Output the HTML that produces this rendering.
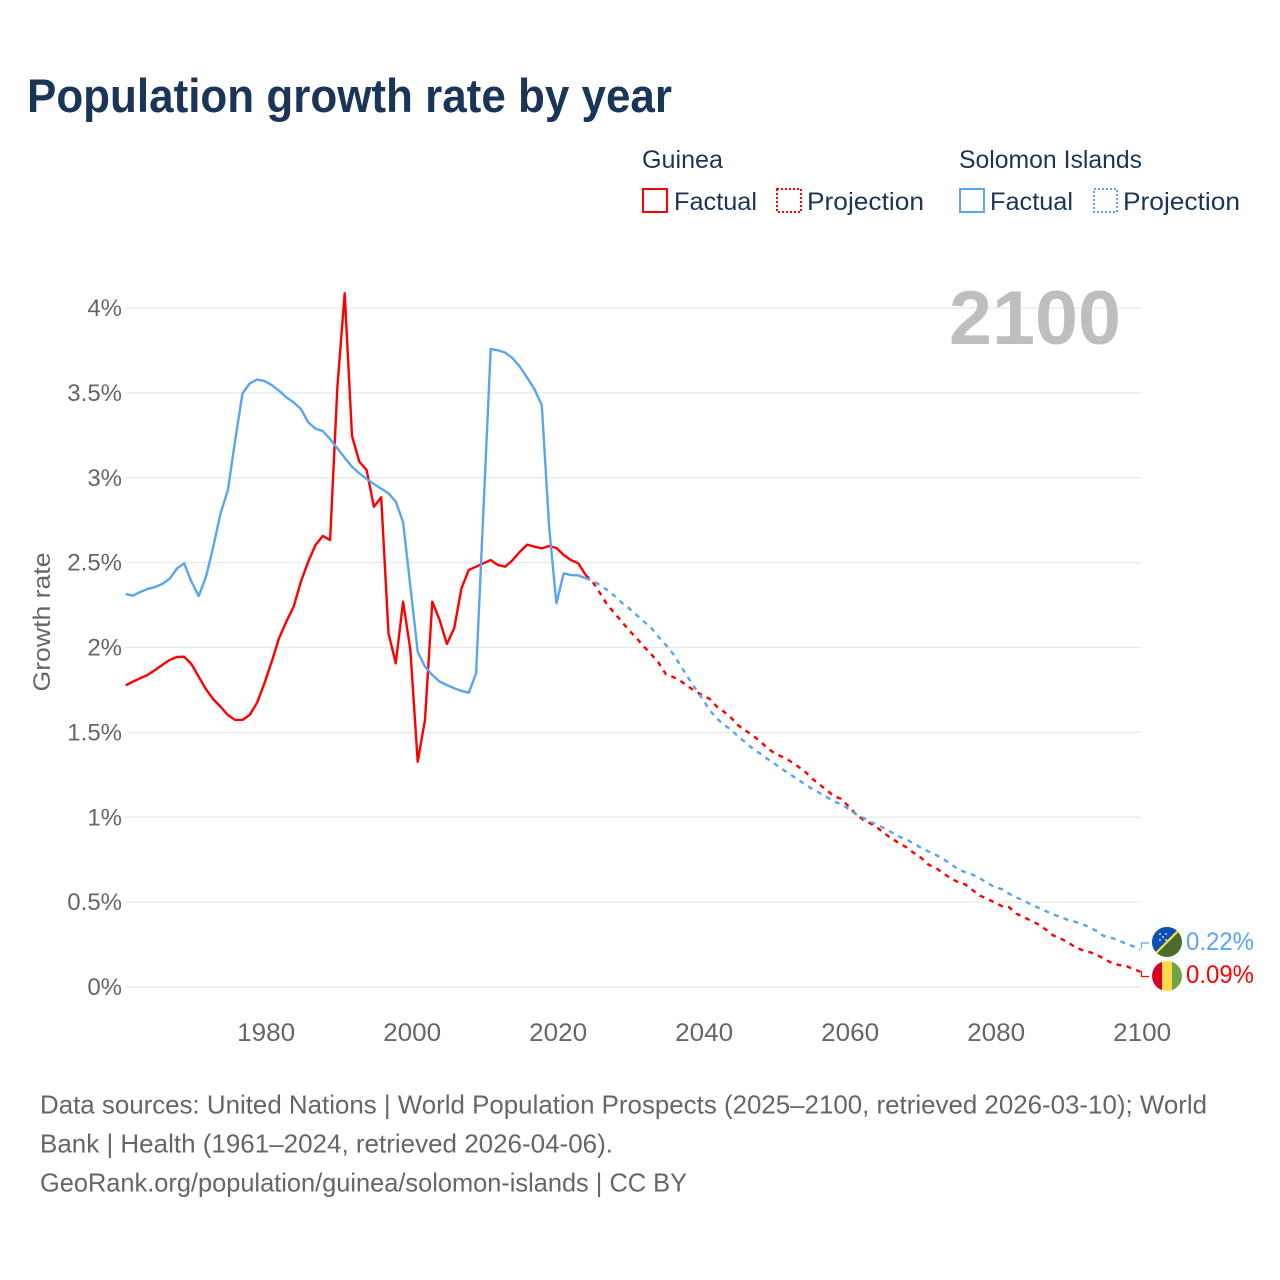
<!DOCTYPE html>
<html lang="en">
<head>
<meta charset="utf-8">
<title>Population growth rate by year</title>
<style>
html,body{margin:0;padding:0;background:#fff;}
svg{display:block;font-family:"Liberation Sans",Arial,sans-serif;}
.tick{fill:#666;font-size:24px;}
.foot{fill:#666;font-size:26px;}
.leg{fill:#1a3557;font-size:25px;}
</style>
</head>
<body>
<svg id="chart" width="1280" height="1280" viewBox="0 0 1280 1280" xmlns="http://www.w3.org/2000/svg">
  <rect width="1280" height="1280" fill="#fff"/>
  <text x="27" y="112" font-size="47" font-weight="700" fill="#1a3557" textLength="645" lengthAdjust="spacingAndGlyphs">Population growth rate by year</text>

  <g>
    <text class="leg" x="642" y="168" textLength="81" lengthAdjust="spacingAndGlyphs">Guinea</text>
    <text class="leg" x="959" y="168" textLength="183" lengthAdjust="spacingAndGlyphs">Solomon Islands</text>
    <g>
      <rect x="643" y="189" width="24" height="23" fill="none" stroke="#ff0000" stroke-width="2"/>
      <text class="leg" x="674" y="210" textLength="83" lengthAdjust="spacingAndGlyphs">Factual</text>
    </g>
    <g>
      <rect x="777" y="189" width="24" height="23" fill="none" stroke="#ff0000" stroke-width="2" stroke-dasharray="2 2"/>
      <text class="leg" x="807" y="210" textLength="117" lengthAdjust="spacingAndGlyphs">Projection</text>
    </g>
    <g>
      <rect x="960" y="189" width="24" height="23" fill="none" stroke="#5ba4ee" stroke-width="2"/>
      <text class="leg" x="990" y="210" textLength="83" lengthAdjust="spacingAndGlyphs">Factual</text>
    </g>
    <g>
      <rect x="1094" y="189" width="23" height="23" fill="none" stroke="#5ba4ee" stroke-width="2" stroke-dasharray="2 2"/>
      <text class="leg" x="1123" y="210" textLength="117" lengthAdjust="spacingAndGlyphs">Projection</text>
    </g>
  </g>

  <g id="grid"></g>
  <text x="949" y="344" font-size="76" font-weight="700" fill="#bebebe" textLength="172" lengthAdjust="spacingAndGlyphs">2100</text>
  <g id="yticks"></g>
  <g id="xticks"></g>
  <text transform="translate(50,622) rotate(-90)" text-anchor="middle" fill="#666" font-size="24" textLength="139" lengthAdjust="spacingAndGlyphs">Growth rate</text>
  <g id="series"></g>

  <g>
    <polyline points="1141.5,948 1141.5,943 1149,943" fill="none" stroke="#5ba4ee" stroke-width="1.2"/>
    <g>
      <clipPath id="clipS"><circle cx="1167" cy="942" r="15"/></clipPath>
      <g clip-path="url(#clipS)">
        <rect x="1152" y="927" width="30" height="30" fill="#4a6b2a"/>
        <polygon points="1152,927 1182,927 1152,957" fill="#0a51b4"/>
        <line x1="1154" y1="955" x2="1180" y2="929" stroke="#ffda44" stroke-width="2.2"/>
        <circle cx="1160" cy="934" r="0.9" fill="#fff"/>
        <circle cx="1166" cy="934" r="0.9" fill="#fff"/>
        <circle cx="1163" cy="937" r="0.9" fill="#fff"/>
        <circle cx="1160" cy="940" r="0.9" fill="#fff"/>
        <circle cx="1166" cy="940" r="0.9" fill="#fff"/>
      </g>
    </g>
    <text x="1186" y="950" font-size="25" fill="#5ba4ee" textLength="68" lengthAdjust="spacingAndGlyphs">0.22%</text>
  </g>
  <g>
    <polyline points="1141.5,971 1141.5,976.5 1149,976.5" fill="none" stroke="#ff0000" stroke-width="1.2"/>
    <g>
      <clipPath id="clipG"><circle cx="1167" cy="976" r="15"/></clipPath>
      <g clip-path="url(#clipG)">
        <rect x="1152" y="961" width="10" height="30" fill="#d80027"/>
        <rect x="1162" y="961" width="10" height="30" fill="#ffda44"/>
        <rect x="1172" y="961" width="10" height="30" fill="#6da544"/>
      </g>
    </g>
    <text x="1186" y="983" font-size="25" fill="#ff0000" textLength="68" lengthAdjust="spacingAndGlyphs">0.09%</text>
  </g>

  <g>
    <text class="foot" x="40" y="1113.5" textLength="1167" lengthAdjust="spacingAndGlyphs">Data sources: United Nations | World Population Prospects (2025–2100, retrieved 2026-03-10); World</text>
    <text class="foot" x="40" y="1152.5" textLength="573" lengthAdjust="spacingAndGlyphs">Bank | Health (1961–2024, retrieved 2026-04-06).</text>
    <text class="foot" x="40" y="1191.5" textLength="647" lengthAdjust="spacingAndGlyphs">GeoRank.org/population/guinea/solomon-islands | CC BY</text>
  </g>
</svg>

<script>
const yTickValues = [0, 0.5, 1, 1.5, 2, 2.5, 3, 3.5, 4];
const yTickLabels = ["0%", "0.5%", "1%", "1.5%", "2%", "2.5%", "3%", "3.5%", "4%"];
const xTickYears = [1980, 2000, 2020, 2040, 2060, 2080, 2100];
const factualStartYear = 1961;
const projectionStartYear = 2024;
const guineaFactual = [1.777,1.799,1.819,1.838,1.867,1.897,1.926,1.944,1.946,1.903,1.828,1.754,1.695,1.651,1.602,1.573,1.573,1.604,1.675,1.789,1.916,2.054,2.152,2.240,2.388,2.505,2.604,2.657,2.633,3.536,4.087,3.246,3.095,3.046,2.829,2.885,2.084,1.907,2.270,1.985,1.327,1.573,2.270,2.162,2.021,2.113,2.349,2.457,2.476,2.496,2.515,2.486,2.476,2.515,2.564,2.606,2.594,2.584,2.598,2.586,2.545,2.515,2.496,2.427];
const solomonFactual = [2.315,2.305,2.327,2.345,2.356,2.374,2.404,2.464,2.496,2.388,2.303,2.417,2.594,2.791,2.928,3.222,3.497,3.556,3.578,3.570,3.546,3.513,3.474,3.444,3.405,3.327,3.289,3.275,3.228,3.173,3.118,3.065,3.026,2.993,2.963,2.936,2.908,2.859,2.738,2.358,1.975,1.887,1.838,1.799,1.779,1.760,1.744,1.734,1.848,2.804,3.758,3.751,3.737,3.704,3.654,3.589,3.521,3.427,2.712,2.260,2.437,2.427,2.425,2.408];
const guineaProjection = [2.427,2.385,2.319,2.250,2.201,2.150,2.099,2.054,2.005,1.960,1.910,1.842,1.826,1.803,1.773,1.742,1.720,1.697,1.651,1.620,1.583,1.538,1.508,1.479,1.443,1.404,1.374,1.355,1.331,1.302,1.271,1.229,1.194,1.161,1.125,1.108,1.066,1.019,0.986,0.964,0.937,0.903,0.872,0.847,0.821,0.789,0.760,0.720,0.701,0.670,0.640,0.619,0.605,0.571,0.538,0.520,0.499,0.477,0.471,0.432,0.412,0.391,0.369,0.340,0.305,0.287,0.265,0.237,0.218,0.206,0.190,0.167,0.143,0.130,0.125,0.106,0.09];
const solomonProjection = [2.408,2.394,2.366,2.337,2.303,2.262,2.229,2.191,2.152,2.115,2.062,2.015,1.962,1.893,1.826,1.760,1.698,1.630,1.581,1.543,1.514,1.471,1.439,1.400,1.373,1.341,1.312,1.282,1.253,1.225,1.196,1.168,1.145,1.119,1.094,1.076,1.050,1.019,0.997,0.974,0.954,0.933,0.909,0.885,0.868,0.844,0.819,0.797,0.778,0.754,0.725,0.695,0.676,0.662,0.640,0.614,0.589,0.577,0.550,0.528,0.508,0.487,0.467,0.448,0.428,0.414,0.396,0.385,0.371,0.353,0.330,0.300,0.290,0.275,0.255,0.240,0.22];

const NS = 'http://www.w3.org/2000/svg';
function xScale(year) { return 125.7 + (year - 1961) * 7.3; }
function yScale(v) { return 987 - v * 169.75; }
function linePath(values, startYear) {
  let d = '';
  for (let i = 0; i < values.length; i++) {
    d += (i ? 'L' : 'M') + xScale(startYear + i).toFixed(2) + ' ' + yScale(values[i]).toFixed(2);
  }
  return d;
}

const grid = document.getElementById('grid');
const yticks = document.getElementById('yticks');
yTickValues.forEach(function (v, i) {
  const ln = document.createElementNS(NS, 'line');
  
  
  ln.setAttribute('x1', 125);
  ln.setAttribute('x2', 1141);
  ln.setAttribute('y1', yScale(v));
  ln.setAttribute('y2', yScale(v));
  ln.setAttribute('stroke', '#e8e8e8');
  ln.setAttribute('stroke-width', '1.3');
  grid.appendChild(ln);
  const t = document.createElementNS(NS, 'text');
  
  
  t.setAttribute('class', 'tick');
  t.setAttribute('x', 122);
  t.setAttribute('y', yScale(v) + 8);
  t.setAttribute('text-anchor', 'end');
  t.textContent = yTickLabels[i];
  yticks.appendChild(t);
});

const xticks = document.getElementById('xticks');
xTickYears.forEach(function (yr) {
  const t = document.createElementNS(NS, 'text');
  
  
  t.setAttribute('class', 'tick');
  t.setAttribute('x', xScale(yr) + 1.8);
  t.setAttribute('y', 1041);
  t.setAttribute('text-anchor', 'middle');
  t.setAttribute('textLength', '58');
  t.setAttribute('lengthAdjust', 'spacingAndGlyphs');
  t.style.fontSize = '25px';
  t.textContent = yr;
  xticks.appendChild(t);
});

const seriesGroup = document.getElementById('series');
function addLine(name, values, startYear, color, dashed) {
  const p = document.createElementNS(NS, 'path');
  
  
  p.setAttribute('d', linePath(values, startYear));
  p.setAttribute('fill', 'none');
  p.setAttribute('stroke', color);
  p.setAttribute('stroke-width', '2.4');
  p.setAttribute('stroke-linejoin', 'round');
  if (dashed) p.setAttribute('stroke-dasharray', '5 5.3');
  seriesGroup.appendChild(p);
}
addLine('guinea-factual-line', guineaFactual, factualStartYear, '#ff0000', false);
addLine('guinea-projection-line', guineaProjection, projectionStartYear, '#ff0000', true);
addLine('solomon-factual-line', solomonFactual, factualStartYear, '#5ba4ee', false);
addLine('solomon-projection-line', solomonProjection, projectionStartYear, '#5ba4ee', true);
</script>
</body>
</html>
